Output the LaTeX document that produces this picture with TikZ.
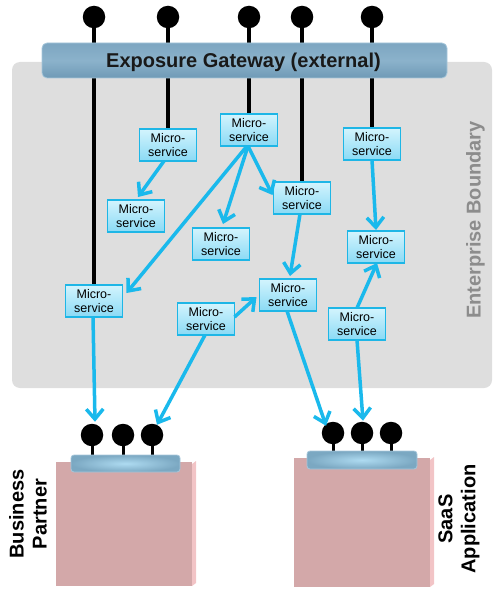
\documentclass[tikz,border=0pt]{standalone}
\usepackage{fontspec}
\setmainfont{Liberation Sans}
\usetikzlibrary{arrows.meta,calc}
\definecolor{bgray}{HTML}{DEDEDE}
\definecolor{gwtop}{HTML}{7DA6C1}
\definecolor{gwmid}{HTML}{8BB2CB}
\definecolor{gwbot}{HTML}{6F9AB6}
\definecolor{gwedge}{HTML}{A6C7DB}
\definecolor{cy}{HTML}{1AB9EC}
\definecolor{msb}{HTML}{1EB6E6}
\definecolor{mstop}{HTML}{D3F4FD}
\definecolor{msbot}{HTML}{8ADAF5}
\definecolor{pinkfront}{HTML}{D3A8A9}
\definecolor{pinkside}{HTML}{F2C4C6}
\definecolor{barin}{HTML}{AEDBF1}
\definecolor{barout}{HTML}{7BA8C2}
\definecolor{egray}{HTML}{8C8C8C}
\pgfdeclarelayer{back}
\pgfsetlayers{back,main}
\begin{document}
\begin{tikzpicture}[x=1pt,y=-1pt,
  ms/.style={draw=msb, line width=1.2pt, top color=mstop, bottom color=msbot,
    minimum width=57pt, minimum height=32pt, inner sep=0pt, outer sep=0pt,
    align=center, font=\fontsize{12.5}{13.4}\selectfont},
  pin/.style={circle, fill=black, minimum size=22.5pt, inner sep=0pt, outer sep=0pt},
  bline/.style={line width=4pt, black},
  stem/.style={line width=3pt, black},
  flow/.style={draw=cy, line width=3.5pt, -{Straight Barb[length=10pt,width=17pt]}},
  gwbox/.style={rounded corners=5pt, draw=gwedge, line width=0.8pt,
    top color=gwtop, bottom color=gwbot, middle color=gwmid,
    minimum width=405pt, minimum height=35pt, inner sep=0pt, outer sep=0pt},
  barbox/.style={rounded corners=3pt, draw=gwedge, line width=0.8pt,
    inner color=barin, outer color=barout, inner sep=0pt, outer sep=0pt},
  lbl/.style={font=\bfseries\fontsize{20}{23}\selectfont, align=center, rotate=90}
]
\useasboundingbox (0,0) rectangle (499,599);

% enterprise boundary
\begin{pgfonlayer}{back}
\fill[bgray, rounded corners=8pt] (12,62) rectangle (492,388);
\end{pgfonlayer}
\node[lbl, text=egray] (eb) at (475.5,220) {Enterprise Boundary};

% microservices
\node[ms] (ms1) at (168,145) {Micro-\\service};
\node[ms] (ms2) at (249,130) {Micro-\\service};
\node[ms] (ms3) at (302,198) {Micro-\\service};
\node[ms] (ms4) at (372,144) {Micro-\\service};
\node[ms] (ms5) at (136,216) {Micro-\\service};
\node[ms] (ms6) at (221,244) {Micro-\\service};
\node[ms] (ms7) at (376,247) {Micro-\\service};
\node[ms] (ms8) at (94,301) {Micro-\\service};
\node[ms] (ms9) at (288,295) {Micro-\\service};
\node[ms] (ms10) at (206,319) {Micro-\\service};
\node[ms] (ms11) at (357,324) {Micro-\\service};

% top pins and black lines
\node[pin] (p1) at (94,17) {};
\node[pin] (p2) at (168,17) {};
\node[pin] (p3) at (249,17) {};
\node[pin] (p4) at (302,17) {};
\node[pin] (p5) at (372,17) {};
\begin{pgfonlayer}{back}
\draw[bline] (p1.center) -- (p1 |- ms8.north);
\draw[bline] (p2.center) -- (p2 |- ms1.north);
\draw[bline] (p3.center) -- (p3 |- ms2.north);
\draw[bline] (p4.center) -- (p4 |- ms3.north);
\draw[bline] (p5.center) -- (p5 |- ms4.north);
\end{pgfonlayer}

% gateway
\node[gwbox] (gw) at (244.5,60.5) {};
\node[anchor=base, inner sep=0pt, text=black!90,
  font=\bfseries\fontsize{20}{24}\selectfont] (gwt) at (243.5,68) {Exposure Gateway (external)};

% bottom systems
\fill[pinkfront] (56,462) rectangle (192,586);
\fill[pinkside] (192,464) -- (196,461) -- (196,583) -- (192,586) -- cycle;
\fill[pinkfront] (294,458) rectangle (430,587);
\fill[pinkside] (430,460) -- (434,457) -- (434,584) -- (430,587) -- cycle;

\node[barbox, minimum width=109pt, minimum height=17pt] (bpbar) at (125.5,463.5) {};
\node[barbox, minimum width=110pt, minimum height=18pt] (sabar) at (362,460) {};

\node[pin] (b1) at (92,435) {};
\node[pin] (b2) at (123,435) {};
\node[pin] (b3) at (152,435) {};
\node[pin] (s1) at (333,433) {};
\node[pin] (s2) at (362,433) {};
\node[pin] (s3) at (391,433) {};
\begin{pgfonlayer}{back}
\draw[stem] (b1.center) -- (b1 |- bpbar.north);
\draw[stem] (b2.center) -- (b2 |- bpbar.north);
\draw[stem] (b3.center) -- (b3 |- bpbar.north);
\draw[stem] (s1.center) -- (s1 |- sabar.north);
\draw[stem] (s2.center) -- (s2 |- sabar.north);
\draw[stem] (s3.center) -- (s3 |- sabar.north);
\end{pgfonlayer}

\node[lbl] (bp) at (28,514) {Business\\Partner};
\node[lbl] (saas) at (459,519) {SaaS\\Application};

% flows
\draw[flow] ([xshift=-4pt]ms1.south) -- ([xshift=2pt,yshift=3pt]ms5.north);
\draw[flow] ([xshift=-1pt]ms2.south) -- ([xshift=2pt,yshift=4pt]ms6.north);
\draw[flow] ([xshift=-1pt]ms2.south) -- ([xshift=-1pt,yshift=3pt]ms3.west);
\draw[flow] ([xshift=-2pt]ms2.south) -- ([xshift=4pt,yshift=8pt]ms8.east);
\draw[flow] ([xshift=-2pt]ms3.south) -- ([xshift=2pt,yshift=3pt]ms9.north);
\draw[flow] (ms4.south) -- ([yshift=1pt]ms7.north);
\draw[flow] ([yshift=2pt]ms10.east) -- ([xshift=-3pt,yshift=-2pt]ms9.west);
\draw[flow] (ms11.north) -- ([xshift=1pt]ms7.south);
\draw[flow] ([xshift=-1pt]ms8.south) -- ([xshift=3pt,yshift=2pt]b1.north);
\draw[flow] ([xshift=-1pt]ms10.south) -- ([xshift=5pt,yshift=-1pt]b3.north);
\draw[flow] ([xshift=-1pt]ms9.south) -- ([xshift=-7pt,yshift=-4pt]s1.north);
\draw[flow] (ms11.south) -- ([xshift=1pt,yshift=1pt]s2.north);
\end{tikzpicture}
\end{document}
